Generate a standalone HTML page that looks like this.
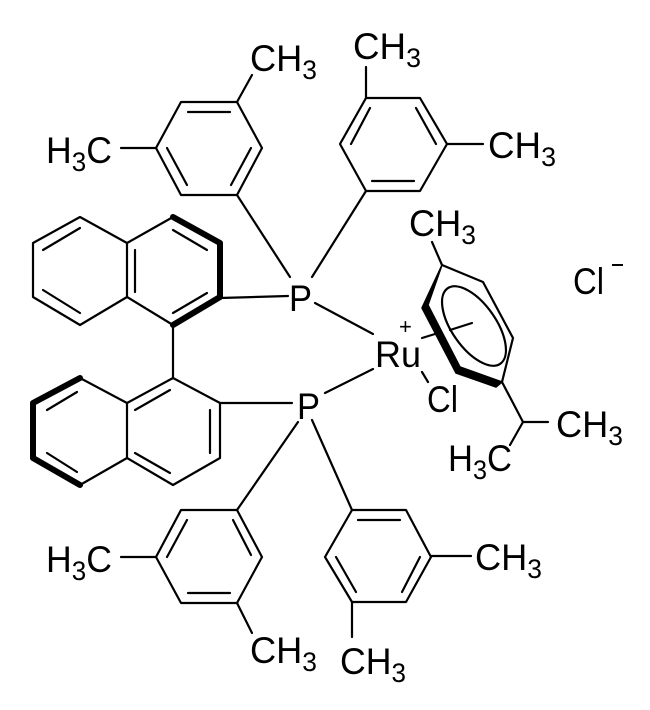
<!DOCTYPE html>
<html><head><meta charset="utf-8"><style>
html,body{margin:0;padding:0;background:#fff;}
svg{display:block;}
text{font-family:"Liberation Sans",sans-serif;fill:#000;}
</style></head><body>
<svg width="650" height="710" viewBox="0 0 650 710" xmlns="http://www.w3.org/2000/svg">
<g stroke="#000" stroke-width="2.2" fill="none" stroke-linecap="round" stroke-linejoin="round">
<polygon points="237,102 262,148 237,195 181,195 156,148 181,102"/>
<line x1="188" y1="112" x2="230" y2="112"/>
<line x1="251" y1="148" x2="231" y2="185"/>
<line x1="167" y1="148" x2="187" y2="185"/>
<line x1="237" y1="102" x2="252" y2="75"/>
<line x1="121" y1="148" x2="156" y2="148"/>
<line x1="237" y1="195" x2="290" y2="277"/>
<polygon points="366,98 420,98 447,144 420,191 366,191 340,144"/>
<line x1="370" y1="108" x2="351" y2="144"/>
<line x1="416" y1="108" x2="436" y2="144"/>
<line x1="372" y1="181" x2="414" y2="181"/>
<line x1="366" y1="98" x2="366" y2="67"/>
<line x1="447" y1="144" x2="483" y2="144"/>
<line x1="366" y1="191" x2="312" y2="277"/>
<polyline points="127,243 80,217 33,243 33,297 80,325 127,297 127,243 173,217"/>
<line x1="127" y1="297" x2="173" y2="325"/>
<line x1="43" y1="250" x2="80" y2="228"/>
<line x1="43" y1="290" x2="80" y2="313"/>
<line x1="135" y1="250" x2="135" y2="292"/>
<line x1="173" y1="230" x2="207" y2="250"/>
<line x1="173" y1="313" x2="207" y2="293"/>
<polyline points="173,217 220,243 220,297 173,325" stroke-width="6"/>
<line x1="220" y1="298" x2="288" y2="296"/>
<line x1="173" y1="325" x2="173" y2="378"/>
<polyline points="80,378 127,403 127,458 80,485"/>
<polyline points="127,403 173,378 220,403 220,458 173,485 127,458"/>
<polyline points="80,378 33,403 33,458 80,485" stroke-width="6"/>
<line x1="47" y1="410" x2="77" y2="392"/>
<line x1="47" y1="453" x2="77" y2="472"/>
<line x1="135" y1="410" x2="170" y2="390"/>
<line x1="210" y1="410" x2="210" y2="453"/>
<line x1="135" y1="453" x2="170" y2="473"/>
<line x1="220" y1="403" x2="292" y2="403"/>
<line x1="315" y1="303" x2="373" y2="334"/>
<line x1="325" y1="393" x2="373" y2="369"/>
<line x1="298" y1="422" x2="237" y2="510"/>
<line x1="312" y1="420" x2="352" y2="510"/>
<polygon points="237,510 262,557 237,603 181,603 156,557 181,510"/>
<line x1="233" y1="520" x2="251" y2="555"/>
<line x1="188" y1="593" x2="230" y2="593"/>
<line x1="167" y1="557" x2="187" y2="520"/>
<line x1="121" y1="557" x2="156" y2="557"/>
<line x1="237" y1="603" x2="252" y2="633"/>
<polygon points="352,510 406,510 431,557 406,602 352,602 325,557"/>
<line x1="358" y1="520" x2="400" y2="520"/>
<line x1="336" y1="557" x2="356" y2="592"/>
<line x1="402" y1="592" x2="420" y2="557"/>
<line x1="431" y1="556" x2="471" y2="556"/>
<line x1="352" y1="602" x2="352" y2="637"/>
<line x1="432" y1="242" x2="442" y2="265"/>
<polyline points="442,265 483,282 513,338 502,382"/>
<polygon points="442,265 428,305 460,367 502,382 496,387 456,373 422,308" fill="#000" stroke-width="1.5"/>
<ellipse cx="474" cy="326" rx="22" ry="46" transform="rotate(-35 474 326)"/>
<line x1="422" y1="338" x2="435" y2="334"/>
<line x1="450" y1="330" x2="472" y2="323"/>
<line x1="422" y1="372" x2="428" y2="382"/>
<line x1="502" y1="382" x2="523" y2="422"/>
<line x1="523" y1="422" x2="548" y2="422"/>
<line x1="523" y1="422" x2="510" y2="445"/>
</g>
<g font-size="37">
<text x="250" y="71" textLength="67" lengthAdjust="spacingAndGlyphs">CH<tspan font-size="27" dy="8">3</tspan></text>
<text x="46" y="163" textLength="66" lengthAdjust="spacingAndGlyphs">H<tspan font-size="27" dy="8">3</tspan><tspan dy="-8">C</tspan></text>
<text x="353" y="59" textLength="68" lengthAdjust="spacingAndGlyphs">CH<tspan font-size="27" dy="8">3</tspan></text>
<text x="488" y="158" textLength="68" lengthAdjust="spacingAndGlyphs">CH<tspan font-size="27" dy="8">3</tspan></text>
<text x="289" y="311" textLength="23" lengthAdjust="spacingAndGlyphs">P</text>
<text x="297" y="419" textLength="23" lengthAdjust="spacingAndGlyphs">P</text>
<text x="375" y="367" textLength="46" lengthAdjust="spacingAndGlyphs">Ru</text>
<text x="399" y="334" font-size="22">+</text>
<text x="427" y="412" textLength="31" lengthAdjust="spacingAndGlyphs">Cl</text>
<text x="409" y="236" textLength="67" lengthAdjust="spacingAndGlyphs">CH<tspan font-size="27" dy="8">3</tspan></text>
<text x="573" y="294" textLength="31" lengthAdjust="spacingAndGlyphs">Cl</text>
<line x1="612" y1="265" x2="623" y2="265" stroke="#000" stroke-width="2"/>
<text x="556" y="437" textLength="67" lengthAdjust="spacingAndGlyphs">CH<tspan font-size="27" dy="8">3</tspan></text>
<text x="448" y="471" textLength="64" lengthAdjust="spacingAndGlyphs">H<tspan font-size="27" dy="8">3</tspan><tspan dy="-8">C</tspan></text>
<text x="46" y="572" textLength="66" lengthAdjust="spacingAndGlyphs">H<tspan font-size="27" dy="8">3</tspan><tspan dy="-8">C</tspan></text>
<text x="475" y="570" textLength="67" lengthAdjust="spacingAndGlyphs">CH<tspan font-size="27" dy="8">3</tspan></text>
<text x="250" y="663" textLength="67" lengthAdjust="spacingAndGlyphs">CH<tspan font-size="27" dy="8">3</tspan></text>
<text x="340" y="674" textLength="66" lengthAdjust="spacingAndGlyphs">CH<tspan font-size="27" dy="8">3</tspan></text>
</g>
</svg>
</body></html>
